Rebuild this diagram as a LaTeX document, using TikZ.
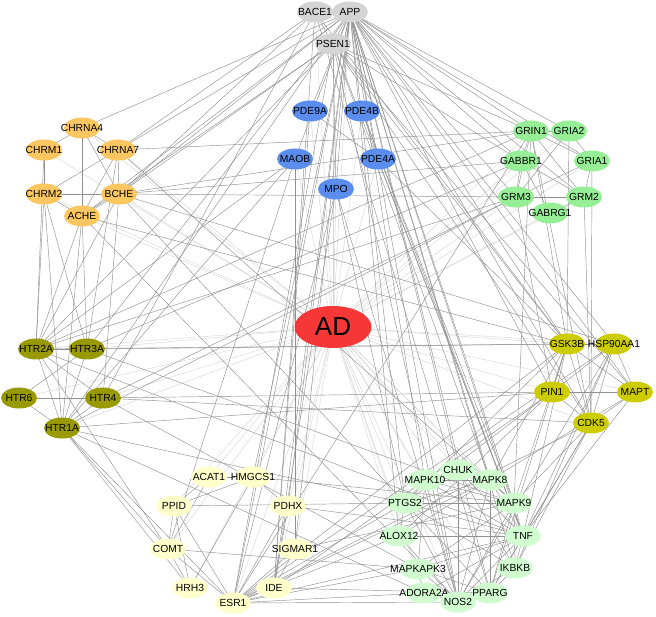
\documentclass[tikz,border=0pt]{standalone}
\usepackage{fontspec}
\setmainfont{Liberation Sans}
\usetikzlibrary{shapes.geometric}
\pgfdeclarelayer{bg}
\pgfsetlayers{bg,main}
\definecolor{cGray}{RGB}{212,212,212}
\definecolor{cOr}{RGB}{252,199,96}
\definecolor{cBlue}{RGB}{91,141,239}
\definecolor{cGrn}{RGB}{150,238,150}
\definecolor{cOlive}{RGB}{153,153,0}
\definecolor{cYel}{RGB}{204,204,0}
\definecolor{cPaleY}{RGB}{255,255,204}
\definecolor{cPaleG}{RGB}{208,252,208}
\definecolor{cAD}{RGB}{245,55,55}
\definecolor{cEdge}{RGB}{145,145,145}
\definecolor{cADedge}{RGB}{215,215,215}
\newcommand\nlab[1]{\makebox[0pt][c]{#1}}
\tikzset{
  nd/.style={ellipse, minimum width=36pt, minimum height=21pt, inner sep=0pt,
    draw=none, font=\fontsize{10.3}{11}\selectfont, text=black},
  adnode/.style={ellipse, minimum width=77pt, minimum height=42pt, inner sep=0pt,
    fill=cAD, font=\fontsize{26}{28}\selectfont, text=black},
  ppi/.style={draw=cEdge, line width=0.45pt},
  adedge/.style={draw=cADedge, line width=0.45pt}
}
\begin{document}
\begin{tikzpicture}[x=1pt,y=-1pt]
\useasboundingbox (0,0) rectangle (656,617);
% ---- nodes ----
\foreach \n/\x/\y in {BACE1/315/12, APP/350/12, PSEN1/333/44}
  \node[nd,fill=cGray] (\n) at (\x,\y) {\nlab{\n}};
\foreach \n/\x/\y in {CHRNA4/82/128, CHRM1/44/150, CHRNA7/118/150, CHRM2/44/194, BCHE/119/194, ACHE/82/216}
  \node[nd,fill=cOr] (\n) at (\x,\y) {\nlab{\n}};
\foreach \n/\x/\y in {PDE9A/310/111, PDE4B/362/111, MAOB/295/159, PDE4A/378/159, MPO/336/189}
  \node[nd,fill=cBlue] (\n) at (\x,\y) {\nlab{\n}};
\foreach \n/\x/\y in {GRIN1/531/131, GRIA2/569/131, GABBR1/521/161, GRIA1/592/161, GRM3/516/197, GRM2/584/197, GABRG1/550/213}
  \node[nd,fill=cGrn] (\n) at (\x,\y) {\nlab{\n}};
\foreach \n/\x/\y in {HTR2A/36/349, HTR3A/87/349, HTR6/19/398, HTR4/103/398, HTR1A/62/428}
  \node[nd,fill=cOlive] (\n) at (\x,\y) {\nlab{\n}};
\foreach \n/\x/\y in {GSK3B/567/344, HSP90AA1/614/344, PIN1/552/392, MAPT/635/392, CDK5/591/423}
  \node[nd,fill=cYel] (\n) at (\x,\y) {\nlab{\n}};
\foreach \n/\x/\y in {ACAT1/209/477, HMGCS1/253/477, PPID/174/506, PDHX/288/506, COMT/168/549, SIGMAR1/295/549, HRH3/190/588, IDE/274/588, ESR1/233/603}
  \node[nd,fill=cPaleY] (\n) at (\x,\y) {\nlab{\n}};
\foreach \n/\x/\y in {MAPK10/425/480, CHUK/458/470, MAPK8/490/480, PTGS2/405/503, MAPK9/514/503, ALOX12/399/536, TNF/523/536, MAPKAPK3/418/569, IKBKB/515/568, ADORA2A/424/593, NOS2/458/602, PPARG/490/593}
  \node[nd,fill=cPaleG] (\n) at (\x,\y) {\nlab{\n}};
\node[adnode] (AD) at (333,327) {AD};
% ---- edges ----
\begin{pgfonlayer}{bg}
\foreach \n in {BACE1,APP,PSEN1,CHRNA4,CHRM1,CHRNA7,CHRM2,BCHE,ACHE,PDE9A,PDE4B,MAOB,PDE4A,MPO,
  GRIN1,GRIA2,GABBR1,GRIA1,GRM3,GRM2,GABRG1,HTR2A,HTR3A,HTR6,HTR4,HTR1A,
  GSK3B,HSP90AA1,PIN1,MAPT,CDK5,ACAT1,HMGCS1,PPID,PDHX,COMT,SIGMAR1,HRH3,IDE,ESR1,
  MAPK10,CHUK,MAPK8,PTGS2,MAPK9,ALOX12,TNF,MAPKAPK3,IKBKB,ADORA2A,NOS2,PPARG}
  \draw[adedge] (AD.center) -- (\n.center);
\foreach \a/\b in {
  APP/BACE1, APP/PSEN1, BACE1/PSEN1,
  APP/CHRNA4, APP/CHRNA7, APP/BCHE, APP/ACHE, BACE1/CHRNA7, BACE1/BCHE, PSEN1/BCHE, PSEN1/ACHE, PSEN1/HTR2A, APP/HTR3A,
  APP/MAOB, APP/PDE4A, APP/PDE9A, APP/MPO, PSEN1/MPO,
  APP/GRIN1, APP/GRIA2, APP/GRIA1, APP/GABBR1, APP/GRM3, APP/GRM2, PSEN1/GRIN1, PSEN1/GABBR1,
  APP/GSK3B, APP/HSP90AA1, APP/MAPT, APP/CDK5, APP/PIN1, PSEN1/GSK3B, PSEN1/CDK5, PSEN1/MAPT, BACE1/GSK3B,
  APP/TNF, APP/MAPK9, APP/MAPK8, APP/IKBKB, APP/PPARG, APP/NOS2, APP/PTGS2, APP/MAPK10, APP/CHUK, APP/ALOX12,
  PSEN1/TNF, PSEN1/NOS2, PSEN1/MAPK8, BACE1/PPARG,
  APP/ESR1, APP/IDE, BACE1/IDE, PSEN1/ESR1, APP/SIGMAR1, APP/HMGCS1, APP/PDHX, BACE1/HTR4, APP/HTR1A,
  CHRNA4/CHRM1, CHRNA4/CHRNA7, CHRNA4/BCHE, CHRNA4/ACHE, CHRM1/CHRM2, CHRNA7/CHRM2, CHRNA7/BCHE, CHRNA7/ACHE,
  CHRM2/BCHE, BCHE/ACHE, CHRM2/ACHE,
  CHRM2/HTR2A, CHRM2/HTR3A, CHRM2/HTR1A, BCHE/HTR2A, BCHE/HTR4, ACHE/HTR2A, ACHE/HTR3A, ACHE/HTR1A, CHRNA7/HTR3A, CHRM1/HTR2A,
  BCHE/GRM3, BCHE/GABBR1, BCHE/GRIN1, CHRNA7/GRIN1, BCHE/HSP90AA1, ACHE/GSK3B, BCHE/PTGS2, ACHE/NOS2, CHRNA7/MAPK9,
  PDE9A/PDE4A, PDE4B/PDE4A, MAOB/HTR1A, MAOB/COMT, MAOB/SIGMAR1, MPO/NOS2, MPO/PTGS2, MPO/ESR1, MPO/IDE,
  PDE4A/TNF, PDE4B/TNF, PDE9A/IDE, PDE4B/MAPK9, PDE4A/GSK3B, MAOB/HTR2A,
  GRIN1/GRIA2, GRIN1/GRIA1, GRIN1/GRM3, GRIN1/GRM2, GRIN1/GABBR1, GRIA2/GRIA1, GRIA2/GRM3, GRIA1/GRM2, GRIA1/GRM3,
  GABBR1/GRM3, GABBR1/GRM2, GABBR1/GABRG1, GRM3/GRM2, GRM2/GABRG1,
  GRM2/CDK5, GRIN1/CDK5, GRIN1/GSK3B, GRIA1/CDK5, GRM3/HTR2A, GRIN1/HTR2A, GABBR1/HTR3A, GRM3/HTR1A, GRIN1/ESR1,
  GRM3/PIN1, GRIA2/GSK3B, GRIN1/MAPK9, GRM3/HTR4,
  HTR2A/HTR3A, HTR2A/HTR1A, HTR3A/HTR1A, HTR3A/HTR6, HTR6/HTR4, HTR6/HTR1A, HTR4/HTR1A, HTR2A/HTR4,
  HTR3A/GSK3B, HTR2A/GSK3B, HTR4/PIN1, HTR4/CDK5, HTR1A/PIN1, HTR1A/PTGS2, HTR4/MAPKAPK3, HTR1A/ADORA2A, HTR2A/TNF,
  HTR3A/MAPK9, HTR1A/ESR1, HTR1A/HRH3, HTR2A/COMT, HTR1A/COMT,
  GSK3B/HSP90AA1, GSK3B/PIN1, GSK3B/MAPT, GSK3B/CDK5, HSP90AA1/MAPT, HSP90AA1/PIN1, HSP90AA1/CDK5, PIN1/MAPT, PIN1/CDK5, MAPT/CDK5,
  GSK3B/TNF, GSK3B/MAPK9, GSK3B/MAPK8, GSK3B/PPARG, HSP90AA1/IKBKB, HSP90AA1/TNF, CDK5/TNF, CDK5/IKBKB, CDK5/MAPK9, CDK5/PPARG,
  MAPT/TNF, PIN1/MAPK10, PIN1/PTGS2, GSK3B/ESR1, HSP90AA1/NOS2, GSK3B/PTGS2, HSP90AA1/ESR1, MAPT/MAPK8, CDK5/ESR1, PIN1/ALOX12,
  ACAT1/HMGCS1, ACAT1/PPID, HMGCS1/PPID, PPID/COMT, PPID/HRH3, PPID/ESR1, COMT/HRH3, COMT/ESR1, HMGCS1/HRH3, ACAT1/COMT,
  PDHX/IDE, SIGMAR1/IDE, SIGMAR1/ESR1, IDE/ESR1, PDHX/ESR1, HMGCS1/PDHX,
  ESR1/NOS2, ESR1/ADORA2A, ESR1/MAPKAPK3, ESR1/ALOX12, ESR1/PTGS2, ESR1/TNF, ESR1/MAPK8, IDE/PPARG, HMGCS1/MAPK9,
  PPID/PTGS2, IDE/MAPK10, SIGMAR1/MAPK9, PDHX/TNF, COMT/MAPKAPK3,
  MAPK10/CHUK, CHUK/MAPK8, MAPK10/MAPK8, MAPK8/MAPK9, MAPK10/PTGS2, PTGS2/MAPK9, PTGS2/TNF, ALOX12/PTGS2, ALOX12/NOS2,
  MAPKAPK3/NOS2, MAPKAPK3/ADORA2A, ADORA2A/NOS2, NOS2/PPARG, PPARG/IKBKB, IKBKB/TNF, TNF/MAPK9, CHUK/NOS2, CHUK/IKBKB,
  MAPK8/NOS2, MAPK8/PPARG, MAPK9/IKBKB, MAPK10/NOS2, PTGS2/NOS2, PTGS2/PPARG, TNF/NOS2, TNF/PPARG, TNF/ALOX12, MAPK9/NOS2,
  IKBKB/NOS2, MAPKAPK3/MAPK9, MAPKAPK3/TNF, MAPK10/TNF, MAPK8/TNF, MAPK10/MAPKAPK3, PTGS2/IKBKB, ALOX12/MAPK8, MAPK9/PPARG,
  CHUK/TNF, MAPKAPK3/PPARG, ADORA2A/TNF, MAPK10/MAPK9, PTGS2/MAPK8}
  \draw[ppi] (\a.center) -- (\b.center);
\end{pgfonlayer}
\end{tikzpicture}
\end{document}
